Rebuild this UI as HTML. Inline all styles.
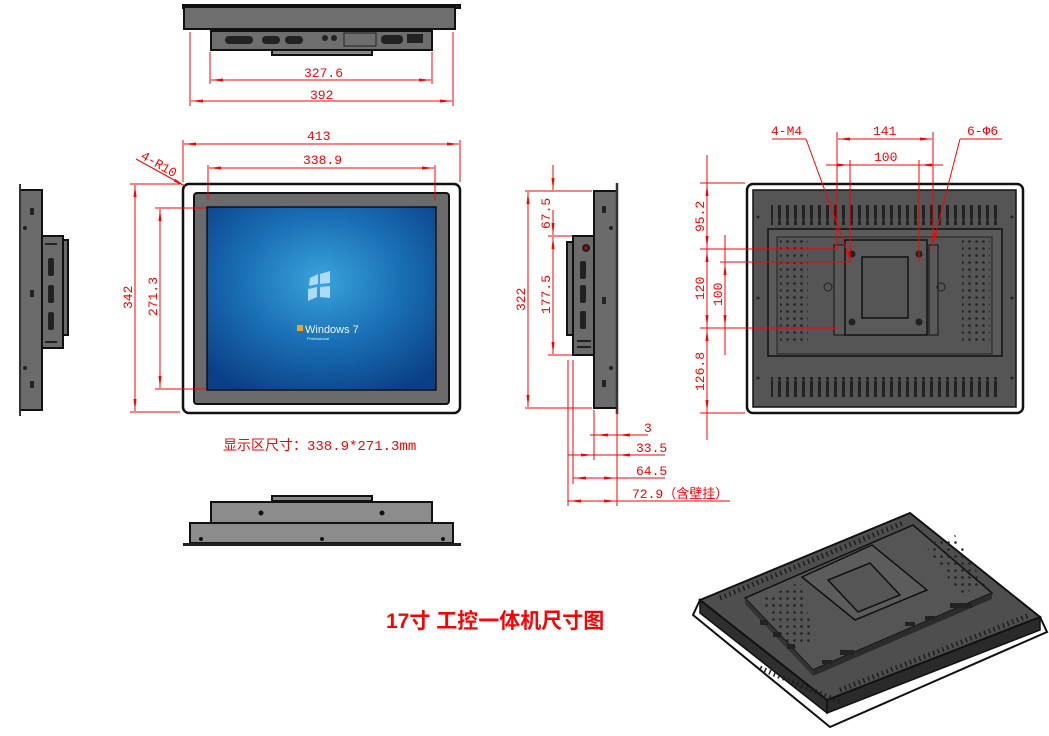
<!DOCTYPE html>
<html><head><meta charset="utf-8"><style>
html,body{margin:0;padding:0;background:#fff;width:1049px;height:736px;overflow:hidden}
svg{display:block}
.t{font-family:"Liberation Mono","Noto Sans CJK SC",monospace;fill:#f00;font-size:13px}
</style></head><body>
<svg width="1049" height="736" viewBox="0 0 1049 736" xmlns="http://www.w3.org/2000/svg">
<defs>
<marker id="a" markerWidth="12" markerHeight="6" refX="12" refY="3" orient="auto-start-reverse" markerUnits="userSpaceOnUse"><path d="M0,1.5 L12,3 L0,4.5Z" fill="#f00"/></marker>
<radialGradient id="scr" cx="0.5" cy="0.4" r="0.7"><stop offset="0" stop-color="#3aa3dc"/><stop offset="0.5" stop-color="#1a6fb4"/><stop offset="1" stop-color="#0a3e86"/></radialGradient>
<pattern id="dots" width="7" height="7" patternUnits="userSpaceOnUse"><circle cx="3.5" cy="3.5" r="1.3" fill="#222"/></pattern>
<pattern id="slots" width="8" height="20" patternUnits="userSpaceOnUse"><rect x="2" y="0" width="3" height="20" rx="1.5" fill="#222"/></pattern>
</defs>
<g stroke="#111" stroke-width="2" fill="#6e6e6e">
<rect x="183" y="5" width="277" height="3" fill="#333"/>
<rect x="184" y="7" width="271" height="22"/>
<rect x="211" y="31" width="221" height="19"/>
<rect x="272" y="50" width="100" height="5" fill="#888"/>
</g>
<g fill="#222"><rect x="225" y="36" width="28" height="8" rx="4"/><rect x="262" y="36" width="18" height="8" rx="4"/><rect x="285" y="36" width="18" height="8" rx="4"/><circle cx="325" cy="38" r="3"/><circle cx="334" cy="38" r="3"/><rect x="344" y="33" width="32" height="13" fill="none" stroke="#222"/><rect x="381" y="35" width="22" height="9" rx="4"/><rect x="407" y="34" width="16" height="9"/></g>
<g fill="none" stroke="#f00" stroke-width="1">
<line x1="210" y1="52" x2="210" y2="84"/><line x1="432" y1="52" x2="432" y2="84"/>
<line x1="211" y1="80" x2="431" y2="80" marker-start="url(#a)" marker-end="url(#a)"/>
<line x1="190" y1="32" x2="190" y2="106"/><line x1="453" y1="32" x2="453" y2="106"/>
<line x1="191" y1="101" x2="452" y2="101" marker-start="url(#a)" marker-end="url(#a)"/>
</g>
<text class="t" x="304" y="77">327.6</text><text class="t" x="310" y="99">392</text>

<rect x="183" y="184" width="277" height="229" rx="6" fill="#fff" stroke="#111" stroke-width="2.5"/>
<rect x="194" y="193" width="255" height="211" rx="3" fill="#6b6b6b" stroke="#111" stroke-width="2"/>
<rect x="207" y="207" width="229" height="183" fill="url(#scr)" stroke="#111" stroke-width="1.5"/>
<g fill="#bfe6ff" opacity="0.85"><path d="M310,278 l8,-4 0,10 -9,2z M320,274 l10,-3 0,12 -10,1z M308,289 l9,-2 0,10 -9,4z M320,287 l10,-1 0,12 -10,-1z"/></g>
<text x="305" y="333" font-family="Liberation Sans,sans-serif" font-size="11" fill="#e8f4ff">Windows 7</text>
<rect x="297" y="325" width="6" height="6" fill="#f4a21b"/>
<text x="307" y="340" font-family="Liberation Sans,sans-serif" font-size="4" fill="#cfe">Professional</text>
<g fill="none" stroke="#f00" stroke-width="1">
<line x1="183" y1="140" x2="183" y2="182"/><line x1="460" y1="140" x2="460" y2="182"/>
<line x1="184" y1="144" x2="459" y2="144" marker-start="url(#a)" marker-end="url(#a)"/>
<line x1="208" y1="165" x2="208" y2="200"/><line x1="435" y1="165" x2="435" y2="200"/>
<line x1="209" y1="168" x2="434" y2="168" marker-start="url(#a)" marker-end="url(#a)"/>
<line x1="130" y1="184" x2="180" y2="184"/><line x1="130" y1="412" x2="180" y2="412"/>
<line x1="135" y1="185" x2="135" y2="411" marker-start="url(#a)" marker-end="url(#a)"/>
<line x1="155" y1="208" x2="206" y2="208"/><line x1="155" y1="389" x2="206" y2="389"/>
<line x1="160" y1="209" x2="160" y2="388" marker-start="url(#a)" marker-end="url(#a)"/>
<line x1="136" y1="159" x2="185" y2="186" marker-end="url(#a)"/>
</g>
<text class="t" x="307" y="140">413</text><text class="t" x="303" y="164">338.9</text>
<text class="t" transform="translate(132,309) rotate(-90)">342</text>
<text class="t" transform="translate(157,316) rotate(-90)">271.3</text>
<text class="t" font-size="12" transform="translate(140,158) rotate(30)">4-R10</text>
<text x="223" y="450" font-family="Liberation Mono,'Noto Sans CJK SC',monospace" font-size="14" fill="#f00">显示区尺寸：338.9*271.3mm</text>

<g stroke="#111" stroke-width="2" fill="#6b6b6b">
<rect x="20" y="190" width="22" height="220"/><rect x="42" y="236" width="21" height="112"/><rect x="63" y="240" width="5" height="95"/>
</g>
<line x1="20" y1="184" x2="20" y2="416" stroke="#333" stroke-width="2"/>
<g fill="#222"><circle cx="25" cy="228" r="2"/><circle cx="25" cy="368" r="2"/><rect x="30" y="208" width="4" height="7"/><rect x="30" y="290" width="4" height="7"/><rect x="30" y="381" width="4" height="7"/><rect x="48" y="258" width="6" height="18" rx="2"/><rect x="48" y="285" width="6" height="18" rx="2"/><rect x="48" y="312" width="6" height="18" rx="2"/><rect x="45" y="243" width="12" height="2"/><rect x="45" y="341" width="12" height="2"/></g>

<g stroke="#111" stroke-width="2" fill="#8c8c8c">
<rect x="272" y="496" width="100" height="5" fill="#888"/>
<rect x="211" y="502" width="221" height="21"/><rect x="190" y="523" width="263" height="20"/>
</g>
<rect x="183" y="543" width="278" height="3" fill="#222"/>
<g fill="#111"><circle cx="261" cy="513" r="2.5"/><circle cx="382" cy="513" r="2.5"/><circle cx="201" cy="539" r="2"/><circle cx="322" cy="539" r="2"/><circle cx="443" cy="539" r="2"/></g>

<g stroke="#111" stroke-width="2" fill="#6b6b6b">
<rect x="594" y="191" width="23" height="217"/><rect x="573" y="236" width="21" height="119"/><rect x="567" y="242" width="6" height="93"/>
</g>
<line x1="617" y1="183" x2="617" y2="414" stroke="#333" stroke-width="2.5"/>
<g fill="#222"><circle cx="586" cy="248" r="4"/><circle cx="586" cy="248" r="1.5" fill="#e00"/><rect x="580" y="261" width="6" height="18" rx="2"/><rect x="580" y="285" width="6" height="18" rx="2"/><rect x="580" y="311" width="6" height="18" rx="2"/><rect x="577" y="340" width="14" height="2"/><rect x="577" y="346" width="14" height="2"/><rect x="602" y="206" width="4" height="7"/><rect x="602" y="297" width="4" height="7"/><rect x="602" y="380" width="4" height="7"/><circle cx="611" cy="228" r="2"/><circle cx="611" cy="368" r="2"/></g>
<g fill="none" stroke="#f00" stroke-width="1">
<line x1="525" y1="191" x2="592" y2="191"/><line x1="525" y1="408" x2="592" y2="408"/>
<line x1="528" y1="192" x2="528" y2="407" marker-start="url(#a)" marker-end="url(#a)"/>
<line x1="553" y1="165" x2="553" y2="190" marker-end="url(#a)"/>
<line x1="548" y1="236" x2="572" y2="236"/><line x1="553" y1="237" x2="553" y2="354" marker-start="url(#a)" marker-end="url(#a)"/>
<line x1="553" y1="210" x2="553" y2="235" marker-end="url(#a)"/>
<line x1="548" y1="355" x2="572" y2="355"/>
<line x1="594" y1="410" x2="594" y2="460"/><line x1="617" y1="410" x2="617" y2="506"/>
<line x1="568" y1="360" x2="568" y2="506"/><line x1="573" y1="360" x2="573" y2="484"/>
<line x1="590" y1="435" x2="648" y2="435"/><line x1="596" y1="435" x2="616" y2="435" marker-start="url(#a)"/><line x1="618" y1="435" x2="630" y2="435" marker-start="url(#a)"/>
<line x1="568" y1="455" x2="665" y2="455"/><line x1="580" y1="455" x2="593" y2="455" marker-end="url(#a)"/><line x1="630" y1="455" x2="618" y2="455" marker-end="url(#a)"/>
<line x1="573" y1="478" x2="665" y2="478"/><line x1="574" y1="478" x2="590" y2="478" marker-start="url(#a)"/><line x1="600" y1="478" x2="616" y2="478" marker-end="url(#a)"/>
<line x1="568" y1="501" x2="730" y2="501"/><line x1="569" y1="501" x2="585" y2="501" marker-start="url(#a)"/><line x1="600" y1="501" x2="616" y2="501" marker-end="url(#a)"/>
</g>
<text class="t" x="644" y="432">3</text><text class="t" x="636" y="452">33.5</text><text class="t" x="636" y="475">64.5</text>
<text class="t" x="632" y="498">72.9（含壁挂）</text>
<text class="t" transform="translate(525,311) rotate(-90)">322</text>
<text class="t" transform="translate(550,229) rotate(-90)">67.5</text>
<text class="t" transform="translate(550,314) rotate(-90)">177.5</text>

<rect x="747" y="184" width="276" height="229" rx="6" fill="#fff" stroke="#111" stroke-width="2.5"/>
<rect x="753" y="190" width="263" height="217" fill="#555" stroke="#111" stroke-width="1.5"/>
<rect x="771" y="205" width="228" height="20" fill="url(#slots)"/>
<rect x="771" y="377" width="228" height="20" fill="url(#slots)"/>
<rect x="768" y="229" width="234" height="127" fill="#5a5a5a" stroke="#111" stroke-width="1.5"/>
<rect x="777" y="237" width="215" height="117" fill="#555" stroke="#222" stroke-width="1"/>
<rect x="780" y="240" width="28" height="105" fill="url(#dots)"/>
<rect x="962" y="240" width="28" height="105" fill="url(#dots)"/>
<rect x="834" y="245" width="12" height="90" fill="#5a5a5a" stroke="#111"/>
<rect x="929" y="245" width="9" height="90" fill="#5a5a5a" stroke="#111"/>
<rect x="845" y="240" width="82" height="95" fill="#5a5a5a" stroke="#111" stroke-width="1.5"/>
<rect x="862" y="257" width="46" height="61" fill="#555" stroke="#111" stroke-width="1.5"/>
<g fill="#222"><circle cx="852" cy="254" r="3.5"/><circle cx="919" cy="254" r="3.5"/><circle cx="852" cy="322" r="3.5"/><circle cx="919" cy="322" r="3.5"/><circle cx="828" cy="287" r="4" fill="none" stroke="#222"/><circle cx="941" cy="287" r="4" fill="none" stroke="#222"/><circle cx="758" cy="217" r="1.5"/><circle cx="1012" cy="217" r="1.5"/><circle cx="758" cy="298" r="1.5"/><circle cx="1012" cy="298" r="1.5"/><circle cx="758" cy="378" r="1.5"/><circle cx="1012" cy="378" r="1.5"/></g>
<g fill="none" stroke="#f00" stroke-width="1">
<line x1="837" y1="132" x2="837" y2="250"/><line x1="933" y1="132" x2="933" y2="250"/>
<line x1="838" y1="139" x2="932" y2="139" marker-start="url(#a)" marker-end="url(#a)"/>
<line x1="850" y1="160" x2="850" y2="262"/><line x1="919" y1="160" x2="919" y2="262"/>
<line x1="826" y1="165" x2="943" y2="165"/><line x1="838" y1="165" x2="849" y2="165" marker-end="url(#a)"/><line x1="932" y1="165" x2="920" y2="165" marker-end="url(#a)"/>
<line x1="772" y1="139" x2="806" y2="139"/><line x1="806" y1="139" x2="851" y2="262" marker-end="url(#a)"/>
<line x1="960" y1="139" x2="1002" y2="139"/><line x1="960" y1="139" x2="933" y2="244" marker-end="url(#a)"/>
<line x1="700" y1="183" x2="745" y2="183"/><line x1="700" y1="249" x2="838" y2="249"/>
<line x1="700" y1="328" x2="838" y2="328"/><line x1="700" y1="413" x2="745" y2="413"/>
<line x1="720" y1="262" x2="850" y2="262"/>
<line x1="707" y1="155" x2="707" y2="440"/>
<line x1="707" y1="184" x2="707" y2="248" marker-start="url(#a)" marker-end="url(#a)"/>
<line x1="707" y1="250" x2="707" y2="327" marker-start="url(#a)" marker-end="url(#a)"/>
<line x1="707" y1="329" x2="707" y2="412" marker-start="url(#a)" marker-end="url(#a)"/>
<line x1="725" y1="235" x2="725" y2="355"/>
<line x1="725" y1="263" x2="725" y2="327" marker-start="url(#a)" marker-end="url(#a)"/>
</g>
<text class="t" x="873" y="135">141</text><text class="t" x="874" y="161">100</text>
<text class="t" x="771" y="135">4-M4</text><text class="t" x="967" y="135">6-Φ6</text>
<text class="t" transform="translate(704,232) rotate(-90)">95.2</text>
<text class="t" transform="translate(704,300) rotate(-90)">120</text>
<text class="t" transform="translate(722,306) rotate(-90)">100</text>
<text class="t" transform="translate(704,391) rotate(-90)">126.8</text>

<text x="386" y="628" font-family="Liberation Sans,'Noto Sans CJK SC',sans-serif" font-size="21" font-weight="bold" fill="#f00">17寸 工控一体机尺寸图</text>

<!-- 3D view -->
<path d="M693,615 L830,727 L1047,632 L1040,617 L827,700 L700,600Z" fill="#fff" stroke="#111" stroke-width="2"/>
<path d="M700,600 L827,700 L827,713 L700,613Z" fill="#2f2f2f" stroke="#111" stroke-width="1.5"/>
<path d="M827,700 L1040,617 L1040,630 L827,713Z" fill="#2a2a2a" stroke="#111" stroke-width="1.5"/>
<path d="M700,600 L910,513 L1040,617 L827,700Z" fill="#4e4e4e" stroke="#111" stroke-width="2"/>
<path d="M720,598 L905,522 M760,668 L840,702 M840,690 L1030,615" stroke="#1e1e1e" stroke-width="5" stroke-dasharray="1.5,3.5"/>
<path d="M745,598 L913,525 L992,593 L813,670Z" fill="#555" stroke="#111" stroke-width="1.5"/>
<path d="M745,598 L813,670 L813,676 L745,604Z" fill="#333"/>
<path d="M813,670 L992,593 L992,599 L813,676Z" fill="#2c2c2c"/>
<path d="M760,600 L800,582 L815,640 L790,650Z" fill="url(#dots)"/>
<path d="M925,545 L955,535 L985,585 L960,595Z" fill="url(#dots)"/>
<path d="M802,577 L872,545 L927,590 L855,620Z" fill="#5c5c5c" stroke="#111" stroke-width="1.5"/>
<path d="M828,580 L870,563 L900,595 L858,612Z" fill="#555" stroke="#111" stroke-width="1.5"/>
<g fill="#222"><rect x="905" y="622" width="10" height="4"/><rect x="925" y="616" width="10" height="4"/><rect x="950" y="603" width="22" height="5"/><rect x="840" y="650" width="14" height="5"/><rect x="822" y="660" width="10" height="4"/><rect x="760" y="620" width="8" height="5"/><rect x="773" y="632" width="8" height="5"/><rect x="787" y="644" width="8" height="5"/></g>
</svg>
</body></html>
